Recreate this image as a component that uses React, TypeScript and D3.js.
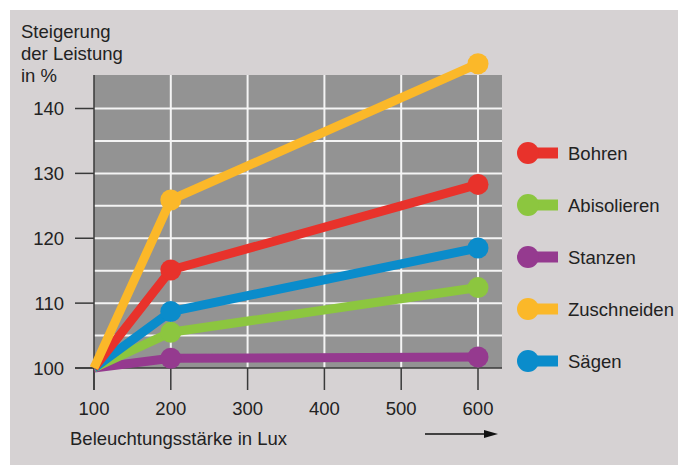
import { useEffect, useRef } from "react";
import * as d3 from "d3";

const W = 678;
const H = 465;

const luxTicks = [100, 200, 300, 400, 500, 600];
const pctTicks = [100, 110, 120, 130, 140];
const gridY = [105, 110, 115, 120, 125, 130, 135, 140];
const lux = [100, 200, 600];

const seriesNames = ["Bohren", "Abisolieren", "Stanzen", "Zuschneiden", "Sägen"];
const seriesColors = ["#e8322b", "#8cc63f", "#953a8f", "#fbb829", "#0a8ccb"];
const bohren = [100, 115.1, 128.3];
const abisolieren = [100, 105.5, 112.4];
const stanzen = [100, 101.5, 101.7];
const zuschneiden = [100, 125.9, 146.9];
const saegen = [100, 108.7, 118.5];
const seriesValues = [bohren, abisolieren, stanzen, zuschneiden, saegen];
// draw order (bottom to top)
const drawOrder = [2, 1, 4, 0, 3];

const FONT = "'Liberation Sans', Arial, sans-serif";
const FS = 18.5;

const App = () => {
  const ref = useRef<SVGSVGElement>(null);

  useEffect(() => {
    const svg = d3.select(ref.current);
    svg.selectAll("*").remove();

    const x = d3.scaleLinear().domain([100, 600]).range([94, 478]);
    const y = d3.scaleLinear().domain([100, 140]).range([368, 108.5]);
    const plotLeft = x(100);
    const plotRight = 502;
    const plotTop = 75;
    const plotBottom = y(100);

    // panel background
    svg
      .append("rect")
      .attr("x", 10)
      .attr("y", 10)
      .attr("width", W - 10)
      .attr("height", H - 10)
      .attr("fill", "#d6d2d3");

    // plot area
    svg
      .append("rect")
      .attr("x", plotLeft)
      .attr("y", plotTop)
      .attr("width", plotRight - plotLeft)
      .attr("height", plotBottom - plotTop)
      .attr("fill", "#939393");

    // grid
    svg
      .append("g")
      .selectAll("line")
      .data(gridY)
      .join("line")
      .attr("x1", plotLeft)
      .attr("x2", plotRight)
      .attr("y1", (d) => y(d))
      .attr("y2", (d) => y(d))
      .attr("stroke", "#f4f4f4")
      .attr("stroke-width", 2);
    svg
      .append("g")
      .selectAll("line")
      .data(luxTicks.slice(1))
      .join("line")
      .attr("x1", (d) => x(d))
      .attr("x2", (d) => x(d))
      .attr("y1", plotTop)
      .attr("y2", plotBottom)
      .attr("stroke", "#f4f4f4")
      .attr("stroke-width", 2);

    // y axis ticks + labels
    const yAx = svg.append("g");
    yAx
      .selectAll("line")
      .data(pctTicks)
      .join("line")
      .attr("x1", 75)
      .attr("x2", plotLeft)
      .attr("y1", (d) => y(d))
      .attr("y2", (d) => y(d))
      .attr("stroke", "#3a3a3a")
      .attr("stroke-width", 1.5);
    yAx
      .selectAll("text")
      .data(pctTicks)
      .join("text")
      .attr("x", 64)
      .attr("y", (d) => y(d))
      .attr("dy", "0.36em")
      .attr("text-anchor", "end")
      .attr("font-family", FONT)
      .attr("font-size", FS)
      .attr("fill", "#222")
      .text((d) => d);

    // x axis ticks + labels
    const xAx = svg.append("g");
    xAx
      .selectAll("line")
      .data(luxTicks)
      .join("line")
      .attr("x1", (d) => x(d))
      .attr("x2", (d) => x(d))
      .attr("y1", plotBottom)
      .attr("y2", 390)
      .attr("stroke", "#3a3a3a")
      .attr("stroke-width", 1.5);
    xAx
      .selectAll("text")
      .data(luxTicks)
      .join("text")
      .attr("x", (d) => x(d))
      .attr("y", 415)
      .attr("text-anchor", "middle")
      .attr("font-family", FONT)
      .attr("font-size", FS)
      .attr("fill", "#222")
      .text((d) => d);

    // axis lines
    svg
      .append("line")
      .attr("x1", 75)
      .attr("x2", plotRight)
      .attr("y1", plotBottom)
      .attr("y2", plotBottom)
      .attr("stroke", "#3a3a3a")
      .attr("stroke-width", 1.5);
    svg
      .append("line")
      .attr("x1", plotLeft)
      .attr("x2", plotLeft)
      .attr("y1", plotTop)
      .attr("y2", 390)
      .attr("stroke", "#3a3a3a")
      .attr("stroke-width", 1.5);

    // series
    const line = d3
      .line<number>()
      .x((_, i) => x(lux[i]))
      .y((d) => y(d));
    drawOrder.forEach((si) => {
      const g = svg.append("g");
      g.append("path")
        .attr("d", line(seriesValues[si]))
        .attr("fill", "none")
        .attr("stroke", seriesColors[si])
        .attr("stroke-width", 9)
        .attr("stroke-linejoin", "round");
      g.selectAll("circle")
        .data(seriesValues[si].slice(1))
        .join("circle")
        .attr("cx", (_, i) => x(lux[i + 1]))
        .attr("cy", (d) => y(d))
        .attr("r", 10.5)
        .attr("fill", seriesColors[si]);
    });

    // legend
    const leg = svg
      .append("g")
      .selectAll("g")
      .data(seriesNames)
      .join("g")
      .attr("transform", (_, i) => `translate(0, ${153 + i * 52})`);
    leg
      .append("rect")
      .attr("x", 528)
      .attr("y", -5.5)
      .attr("width", 30)
      .attr("height", 11)
      .attr("fill", (_, i) => seriesColors[i]);
    leg
      .append("circle")
      .attr("cx", 528)
      .attr("cy", 0)
      .attr("r", 11)
      .attr("fill", (_, i) => seriesColors[i]);
    leg
      .append("text")
      .attr("x", 568)
      .attr("dy", "0.36em")
      .attr("font-family", FONT)
      .attr("font-size", FS)
      .attr("fill", "#222")
      .text((d) => d);

    // y title
    svg
      .append("text")
      .attr("font-family", FONT)
      .attr("font-size", FS)
      .attr("fill", "#222")
      .selectAll("tspan")
      .data(["Steigerung", "der Leistung", "in %"])
      .join("tspan")
      .attr("x", 21)
      .attr("y", (_, i) => 38 + i * 22)
      .text((d) => d);

    // x title
    svg
      .append("text")
      .attr("x", 70)
      .attr("y", 445)
      .attr("font-family", FONT)
      .attr("font-size", FS)
      .attr("fill", "#222")
      .text("Beleuchtungsstärke in Lux");

    // arrow
    svg
      .append("line")
      .attr("x1", 425)
      .attr("x2", 486)
      .attr("y1", 434)
      .attr("y2", 434)
      .attr("stroke", "#111")
      .attr("stroke-width", 1.5);
    svg
      .append("path")
      .attr("d", d3.line()([[484, 430], [498, 434], [484, 438]]) + "Z")
      .attr("fill", "#111");
  }, []);

  return (
    <div style={{ position: "absolute", left: 0, top: 0 }}>
      <svg ref={ref} width={W} height={H} style={{ display: "block", background: "#fff" }} />
    </div>
  );
};

export default App;
